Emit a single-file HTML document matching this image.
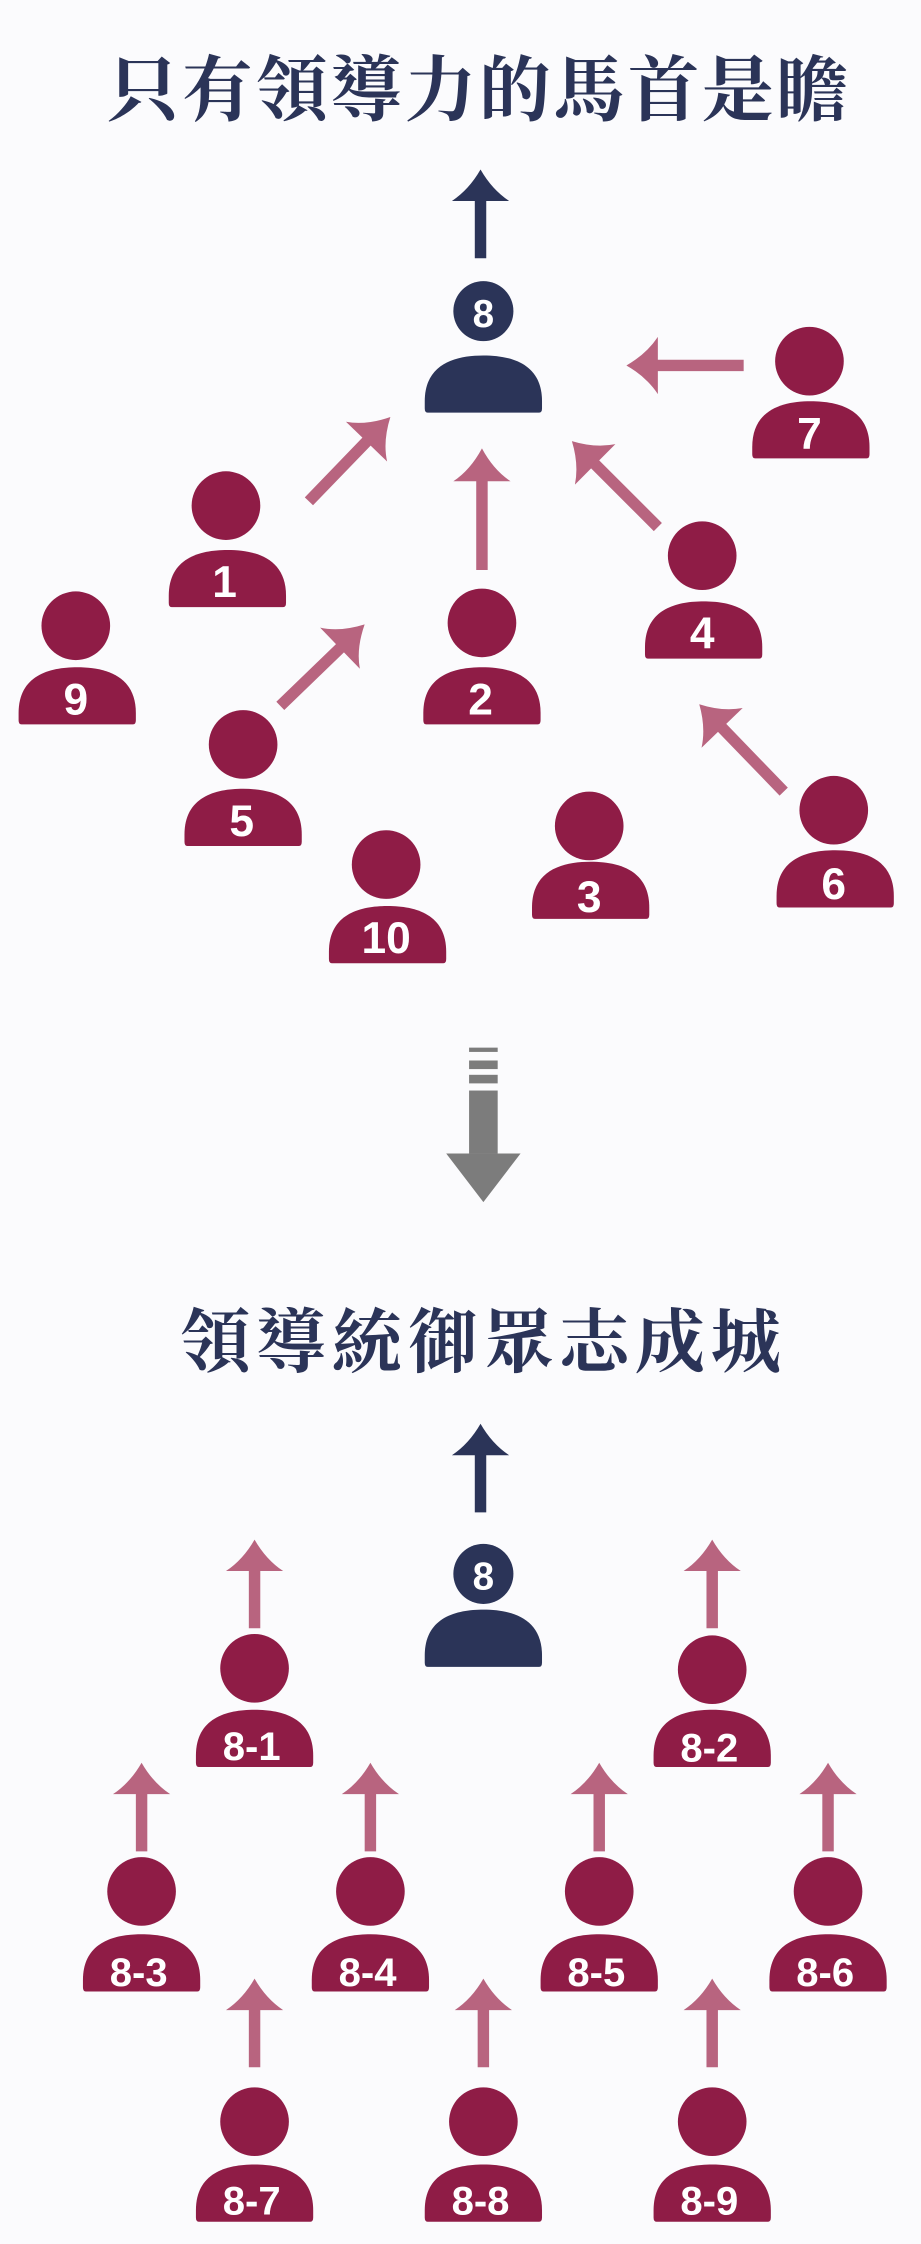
<!DOCTYPE html>
<html><head><meta charset="utf-8"><style>
html,body{margin:0;padding:0;background:#fbfbfd;}
svg{display:block}
.t{font-family:"Liberation Serif","Noto Serif CJK TC","Noto Serif CJK SC",serif;font-weight:bold;fill:#2b3458;}
.l{font-family:"Liberation Sans",sans-serif;font-weight:bold;fill:#fff;text-anchor:middle;}
</style></head><body>
<svg width="921" height="2244" viewBox="0 0 644 1568" xmlns="http://www.w3.org/2000/svg">
<defs>
<g id="body"><path d="M-39,0 Q-41,0 -41,-3 V-8 C-41,-34 -20,-40 0,-40 C20,-40 41,-34 41,-8 V-3 Q41,0 39,0 Z"/></g>
</defs>
<text class="t" x="335" y="80" font-size="50" text-anchor="middle" letter-spacing="2">只有領導力的馬首是瞻</text>
<text class="t" x="338" y="955" font-size="49" text-anchor="middle" letter-spacing="4">領導統御眾志成城</text>

<g fill="#2b3458">
<path transform="translate(336,180)" d="M-4,0 V-40 H-20 Q-8,-48 0,-62 Q8,-48 20,-40 H4 V0 Z"/>
<path transform="translate(336,1057)" d="M-4,0 V-40 H-20 Q-8,-48 0,-62 Q8,-48 20,-40 H4 V0 Z"/>
</g>
<g fill="#b8647f">
<path transform="translate(216,350) rotate(44)" d="M-4,0 V-58 H-20 Q-8,-66 0,-82 Q8,-66 20,-58 H4 V0 Z"/>
<path transform="translate(337,398)" d="M-4,0 V-62 H-20 Q-8,-70 0,-85 Q8,-70 20,-62 H4 V0 Z"/>
<path transform="translate(460,368) rotate(-45)" d="M-4,0 V-62 H-20 Q-8,-70 0,-85 Q8,-70 20,-62 H4 V0 Z"/>
<path transform="translate(520,255) rotate(-90)" d="M-4,0 V-60 H-20 Q-8,-68 0,-82 Q8,-68 20,-60 H4 V0 Z"/>
<path transform="translate(196,493) rotate(46)" d="M-4,0 V-58 H-20 Q-8,-66 0,-82 Q8,-66 20,-58 H4 V0 Z"/>
<path transform="translate(548,553) rotate(-44)" d="M-4,0 V-62 H-20 Q-8,-70 0,-85 Q8,-70 20,-62 H4 V0 Z"/>
</g>
<g fill="#b8647f">
<path transform="translate(178,1138)" d="M-4,0 V-40 H-20 Q-8,-48 0,-62 Q8,-48 20,-40 H4 V0 Z"/>
<path transform="translate(498,1138)" d="M-4,0 V-40 H-20 Q-8,-48 0,-62 Q8,-48 20,-40 H4 V0 Z"/>
<path transform="translate(99,1294)" d="M-4,0 V-40 H-20 Q-8,-48 0,-62 Q8,-48 20,-40 H4 V0 Z"/>
<path transform="translate(259,1294)" d="M-4,0 V-40 H-20 Q-8,-48 0,-62 Q8,-48 20,-40 H4 V0 Z"/>
<path transform="translate(419,1294)" d="M-4,0 V-40 H-20 Q-8,-48 0,-62 Q8,-48 20,-40 H4 V0 Z"/>
<path transform="translate(579,1294)" d="M-4,0 V-40 H-20 Q-8,-48 0,-62 Q8,-48 20,-40 H4 V0 Z"/>
<path transform="translate(178,1445)" d="M-4,0 V-40 H-20 Q-8,-48 0,-62 Q8,-48 20,-40 H4 V0 Z"/>
<path transform="translate(338,1445)" d="M-4,0 V-40 H-20 Q-8,-48 0,-62 Q8,-48 20,-40 H4 V0 Z"/>
<path transform="translate(498,1445)" d="M-4,0 V-40 H-20 Q-8,-48 0,-62 Q8,-48 20,-40 H4 V0 Z"/>
</g>

<g fill="#7c7c7c">
<rect x="328" y="732" width="20" height="3"/>
<rect x="328" y="741" width="20" height="6"/>
<rect x="328" y="751" width="20" height="6"/>
<rect x="328" y="762" width="20" height="44"/>
<path d="M312,806 H364 L338,840 Z"/>
</g>

<g fill="#2b3458">
<circle cx="338" cy="217" r="21"/><use href="#body" x="338" y="288"/>
<circle cx="338" cy="1100" r="21"/><use href="#body" x="338" y="1165"/>
</g>
<text class="l" x="338" y="228" font-size="27">8</text>
<text class="l" x="338" y="1111" font-size="27">8</text>

<g fill="#8f1c46">
<circle cx="158" cy="353" r="24"/><use href="#body" x="159" y="424"/>
<circle cx="53" cy="437" r="24"/><use href="#body" x="54" y="506"/>
<circle cx="337" cy="435" r="24"/><use href="#body" x="337" y="506"/>
<circle cx="491" cy="388" r="24"/><use href="#body" x="492" y="460"/>
<circle cx="566" cy="252" r="24"/><use href="#body" x="567" y="320"/>
<circle cx="170" cy="520" r="24"/><use href="#body" x="170" y="591"/>
<circle cx="270" cy="604" r="24"/><use href="#body" x="271" y="673"/>
<circle cx="412" cy="577" r="24"/><use href="#body" x="413" y="642"/>
<circle cx="583" cy="566" r="24"/><use href="#body" x="584" y="634"/>
</g>
<g class="l" font-size="31">
<text x="157" y="417">1</text>
<text x="53" y="499">9</text>
<text x="336" y="499">2</text>
<text x="491" y="453">4</text>
<text x="566" y="313">7</text>
<text x="169" y="584">5</text>
<text x="270" y="666">10</text>
<text x="412" y="637">3</text>
<text x="583" y="628">6</text>
</g>

<g fill="#8f1c46">
<circle cx="178" cy="1166" r="24"/><use href="#body" x="178" y="1235"/>
<circle cx="498" cy="1167" r="24"/><use href="#body" x="498" y="1235"/>
<circle cx="99" cy="1322" r="24"/><use href="#body" x="99" y="1392"/>
<circle cx="259" cy="1322" r="24"/><use href="#body" x="259" y="1392"/>
<circle cx="419" cy="1322" r="24"/><use href="#body" x="419" y="1392"/>
<circle cx="579" cy="1322" r="24"/><use href="#body" x="579" y="1392"/>
<circle cx="178" cy="1483" r="24"/><use href="#body" x="178" y="1553"/>
<circle cx="338" cy="1483" r="24"/><use href="#body" x="338" y="1553"/>
<circle cx="498" cy="1483" r="24"/><use href="#body" x="498" y="1553"/>
</g>
<g class="l" font-size="28">
<text x="176" y="1230">8-1</text>
<text x="496" y="1231">8-2</text>
<text x="97" y="1388">8-3</text>
<text x="257" y="1388">8-4</text>
<text x="417" y="1388">8-5</text>
<text x="577" y="1388">8-6</text>
<text x="176" y="1548">8-7</text>
<text x="336" y="1548">8-8</text>
<text x="496" y="1548">8-9</text>
</g>
</svg>
</body></html>
